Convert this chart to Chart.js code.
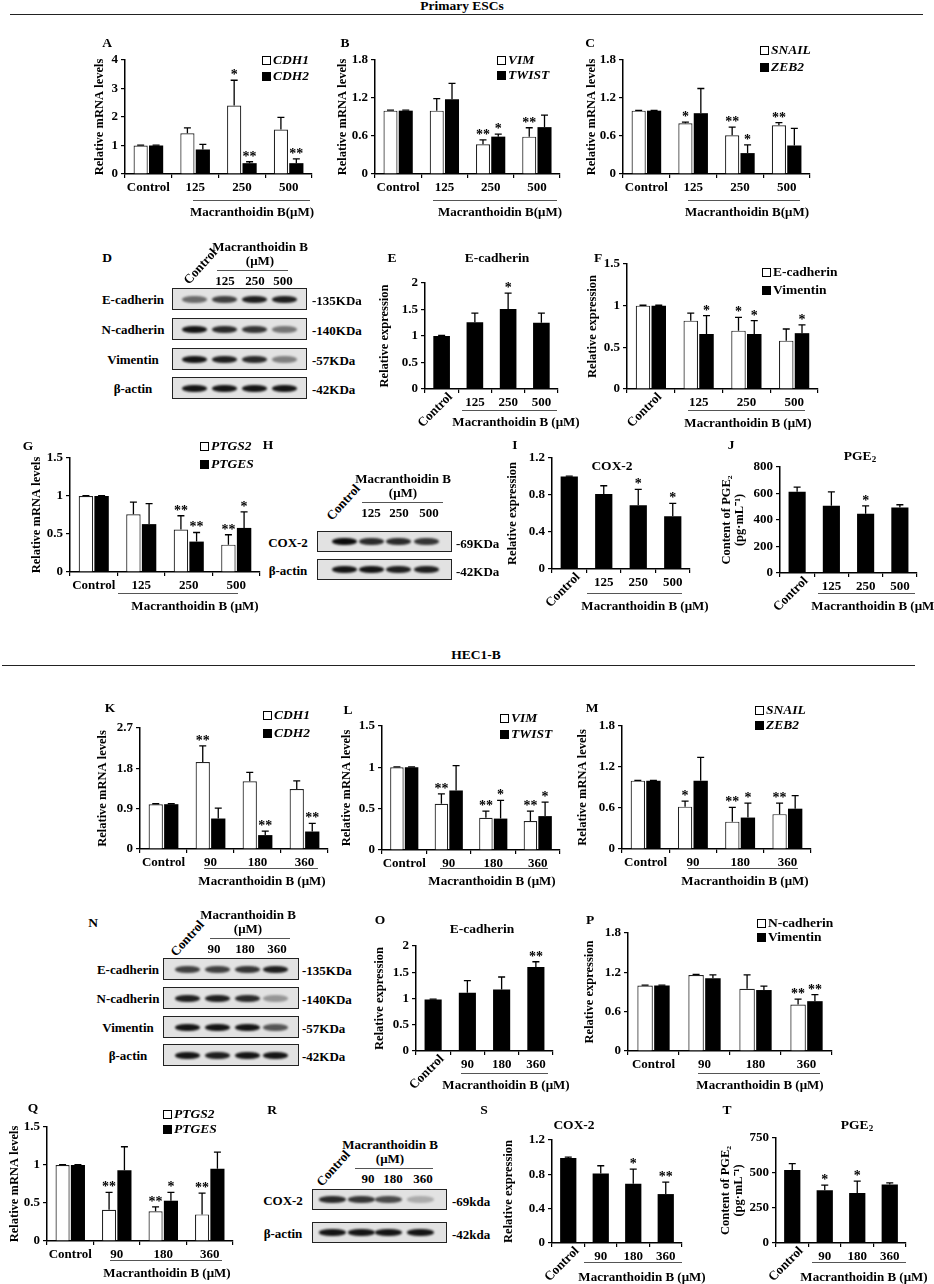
<!DOCTYPE html>
<html><head><meta charset="utf-8">
<script src="https://cdn.jsdelivr.net/npm/chart.js@4.4.1/dist/chart.umd.min.js"></script>
<style>
html,body{margin:0;padding:0;background:#fff;}
#fig{position:relative;width:934px;height:1284px;overflow:hidden;font-family:'Liberation Serif','Times New Roman',serif;font-weight:bold;color:#000;}
.t{position:absolute;white-space:nowrap;font-size:12px;line-height:1;transform:translate(-50%,-50%);}
.l{position:absolute;white-space:nowrap;font-size:12px;line-height:1;transform:translate(0,-50%);}
canvas{position:absolute;}
.rule{position:absolute;height:0;border-top:1.5px solid #222;}
.ul{position:absolute;height:0;border-top:1px solid #555;}
.blot{position:absolute;background:#e2e2e2;border:1.4px solid #222;box-sizing:border-box;overflow:hidden;}
.band{position:absolute;border-radius:45%;background:#0a0a0a;filter:blur(0.9px);}
sub{font-size:9px;vertical-align:-2px;}
</style></head>
<body><div id="fig"></div>
<script>
// ---------- categories ----------
const catESC = ['Control','125','250','500'];
const catHEC = ['Control','90','180','360'];

// ---------- Primary ESCs ----------
const A_CDH1 = [1.00,1.43,2.40,1.56];  const A_CDH1_err = [0.01,0.19,0.89,0.43];  const A_CDH1_sig = ['','','*',''];
const A_CDH2 = [1.00,0.86,0.38,0.38];  const A_CDH2_err = [0.01,0.18,0.05,0.15];  const A_CDH2_sig = ['','','**','**'];
const B_VIM = [1.00,1.00,0.47,0.59];   const B_VIM_err = [0.01,0.19,0.07,0.14];   const B_VIM_sig = ['','','**','**'];
const B_TWIST = [1.00,1.18,0.59,0.74]; const B_TWIST_err = [0.01,0.25,0.04,0.19]; const B_TWIST_sig = ['','','*',''];
const C_SNAIL = [1.00,0.80,0.61,0.77]; const C_SNAIL_err = [0.005,0.02,0.13,0.04]; const C_SNAIL_sig = ['','*','**','**'];
const C_ZEB2 = [1.00,0.96,0.33,0.45];  const C_ZEB2_err = [0.005,0.39,0.13,0.27];  const C_ZEB2_sig = ['','','*',''];
const E_ECAD = [1.00,1.26,1.51,1.25];  const E_ECAD_err = [0.01,0.17,0.30,0.18];  const E_ECAD_sig = ['','','*',''];
const F_ECAD = [1.00,0.82,0.70,0.58];  const F_ECAD_err = [0.005,0.09,0.16,0.14]; const F_ECAD_sig = ['','','*',''];
const F_VIM = [1.00,0.66,0.66,0.67];   const F_VIM_err = [0.005,0.22,0.16,0.10];  const F_VIM_sig = ['','*','*','*'];
const G_PTGS2 = [1.00,0.76,0.56,0.36]; const G_PTGS2_err = [0.005,0.16,0.18,0.13]; const G_PTGS2_sig = ['','','**','**'];
const G_PTGES = [1.00,0.63,0.40,0.58]; const G_PTGES_err = [0.005,0.27,0.12,0.21]; const G_PTGES_sig = ['','','**','*'];
const I_COX2 = [1.00,0.81,0.69,0.57];  const I_COX2_err = [0.005,0.09,0.17,0.14]; const I_COX2_sig = ['','','*','*'];
const J_PGE2 = [613,508,448,495];      const J_PGE2_err = [35,105,58,20];          const J_PGE2_sig = ['','','*',''];

// ---------- HEC1-B ----------
const K_CDH1 = [1.00,1.94,1.51,1.34];  const K_CDH1_err = [0.01,0.36,0.20,0.18];  const K_CDH1_sig = ['','**','',''];
const K_CDH2 = [1.00,0.68,0.31,0.39];  const K_CDH2_err = [0.01,0.23,0.09,0.18];  const K_CDH2_sig = ['','','**','**'];
const L_VIM = [1.00,0.56,0.39,0.35];   const L_VIM_err = [0.005,0.12,0.08,0.12];  const L_VIM_sig = ['','**','**','**'];
const L_TWIST = [1.00,0.72,0.38,0.41]; const L_TWIST_err = [0.005,0.30,0.22,0.17]; const L_TWIST_sig = ['','','*','*'];
const M_SNAIL = [1.00,0.62,0.40,0.51]; const M_SNAIL_err = [0.005,0.08,0.21,0.16]; const M_SNAIL_sig = ['','*','**','**'];
const M_ZEB2 = [1.00,1.00,0.46,0.59];  const M_ZEB2_err = [0.005,0.34,0.21,0.19];  const M_ZEB2_sig = ['','','*',''];
const O_ECAD = [0.98,1.11,1.17,1.60];  const O_ECAD_err = [0.01,0.23,0.24,0.10];  const O_ECAD_sig = ['','','','**'];
const P_NCAD = [1.00,1.16,0.95,0.71];  const P_NCAD_err = [0.005,0.01,0.21,0.08]; const P_NCAD_sig = ['','','','**'];
const P_VIM = [1.00,1.11,0.93,0.76];   const P_VIM_err = [0.005,0.05,0.06,0.10];  const P_VIM_sig = ['','','','**'];
const Q_PTGS2 = [1.00,0.41,0.39,0.35]; const Q_PTGS2_err = [0.005,0.23,0.06,0.28]; const Q_PTGS2_sig = ['','**','**','**'];
const Q_PTGES = [1.00,0.93,0.53,0.95]; const Q_PTGES_err = [0.005,0.31,0.11,0.22]; const Q_PTGES_sig = ['','','*',''];
const S_COX2 = [0.99,0.81,0.69,0.57];  const S_COX2_err = [0.01,0.09,0.17,0.14];  const S_COX2_sig = ['','','*','**'];
const T_PGE2 = [522,377,357,418];      const T_PGE2_err = [45,37,85,12];           const T_PGE2_sig = ['','*','*',''];

// ---------- western blot band intensities ----------
const blotD_names = ['E-cadherin','N-cadherin','Vimentin','β-actin'];
const blotD_kda = ['-135KDa','-140KDa','-57KDa','-42KDa'];
const blotD_bands = [[0.55,0.75,0.9,0.9],[0.95,0.85,0.8,0.5],[0.95,0.9,0.85,0.45],[0.95,0.95,0.95,0.95]];
const blotH_names = ['COX-2','β-actin'];
const blotH_kda = ['-69KDa','-42KDa'];
const blotH_bands = [[1,0.85,0.85,0.8],[0.95,0.95,0.9,0.9]];
const blotN_names = ['E-cadherin','N-cadherin','Vimentin','β-actin'];
const blotN_kda = ['-135KDa','-140KDa','-57KDa','-42KDa'];
const blotN_bands = [[0.75,0.75,0.8,0.9],[0.9,0.9,0.85,0.35],[0.95,0.95,0.95,0.65],[0.95,0.9,0.95,0.95]];
const blotR_names = ['COX-2','β-actin'];
const blotR_kda = ['-69kda','-42kda'];
const blotR_bands = [[0.85,0.8,0.7,0.25],[0.95,0.95,0.95,0.95]];

const FONT = "'Liberation Serif','Times New Roman',serif";
Chart.defaults.font.family = FONT;
Chart.defaults.font.weight = 'bold';
Chart.defaults.font.size = 13;
Chart.defaults.color = '#000';

const fig = document.getElementById('fig');
function el(tag, cls, style, html){ const e=document.createElement(tag); if(cls) e.className=cls; Object.assign(e.style, style||{}); if(html!==undefined) e.innerHTML=html; fig.appendChild(e); return e; }
function txt(x,y,s,o){ o=o||{}; const e=el('div', o.left?'l':'t', {left:x+'px', top:y+'px', fontSize:(o.size||13)+'px'}, s);
  if(o.italic) e.style.fontStyle='italic';
  if(o.rot) e.style.transform='translate(-50%,-50%) rotate('+o.rot+'deg)';
  return e; }
function hline(x1,x2,y,cls){ el('div', cls||'ul', {left:x1+'px', top:y+'px', width:(x2-x1)+'px'}); }
function legend(x,y1,y2,names,italic){
  names.forEach((n,i)=>{ const y=i?y2:y1;
    el('div','',{position:'absolute',left:x+'px',top:(y-4.5)+'px',width:'9px',height:'9px',boxSizing:'border-box',border:'1.2px solid #000',background:i?'#000':'#fff'});
    txt(x+11,y,n,{left:true,italic:italic,size:13.5});
  });
}

// plugins: error bars + significance, rotated first category label
const errPlugin = { id:'errs', afterDatasetsDraw(chart){
  const ctx=chart.ctx, ys=chart.scales.y;
  chart.data.datasets.forEach((ds,i)=>{
    const meta=chart.getDatasetMeta(i);
    meta.data.forEach((bar,j)=>{
      const yt=ys.getPixelForValue(ds.data[j]+ds.err[j]);
      ctx.save(); ctx.strokeStyle='#000'; ctx.lineWidth=1.3;
      ctx.beginPath(); ctx.moveTo(bar.x,bar.y); ctx.lineTo(bar.x,yt);
      ctx.moveTo(bar.x-3.5,yt); ctx.lineTo(bar.x+3.5,yt); ctx.stroke();
      if(ds.sig[j]){ ctx.fillStyle='#000'; ctx.font="bold 14px "+FONT; ctx.textAlign='center'; ctx.textBaseline='alphabetic'; ctx.fillText(ds.sig[j], bar.x, yt-1); }
      ctx.restore();
    });
  });
}};
const ctlPlugin = { id:'ctl', afterDraw(chart,args,opts){
  if(!opts.rotate) return;
  const xs=chart.scales.x, ctx=chart.ctx, x=xs.getPixelForValue(0);
  ctx.save(); ctx.translate(x+9, xs.top+6); ctx.rotate(-Math.PI/4);
  ctx.font="bold 13px "+FONT; ctx.fillStyle='#000'; ctx.textAlign='right'; ctx.textBaseline='middle';
  ctx.fillText(chart.data.labels[0],0,0); ctx.restore();
}};

function makeChart(p){
  const multi=Array.isArray(p.yt);
  const lhf=multi?1.0:1.15, fs=12.5, lh=fs*lhf, topPad=22, xH=50, rPad=6;
  const left=Math.round(p.tx - lh/2);
  const w=p.R-left+rPad, h=topPad+(p.bot-p.top)+xH;
  const c=document.createElement('canvas');
  c.width=w; c.height=h;
  Object.assign(c.style,{left:left+'px', top:(p.top-topPad)+'px', width:w+'px', height:h+'px'});
  fig.appendChild(c);
  const yW=p.L-left, pair=p.series.length===2;
  new Chart(c,{ type:'bar',
    data:{ labels:p.cats, datasets:p.series.map(s=>({ label:s.n, data:s.d, err:s.e, sig:s.s,
      backgroundColor:s.w?'#fff':'#000', borderColor:'#222', borderWidth:s.w?1.2:0,
      categoryPercentage:pair?0.66:0.5, barPercentage:pair?0.92:1 })) },
    options:{ responsive:false, animation:false, events:[],
      layout:{padding:{top:topPad,right:rPad,left:0,bottom:0}},
      plugins:{ legend:{display:false}, tooltip:{enabled:false}, ctl:{rotate:!!p.rot} },
      scales:{
        x:{ type:'category', offset:true,
          grid:{display:true, offset:true, drawOnChartArea:false, drawTicks:true, tickLength:4, color:'#000', lineWidth:1.2},
          border:{display:true, color:'#000', width:1.5},
          ticks:{ color:'#000', font:{size:13, weight:'bold'}, padding:2, maxRotation:0, autoSkip:false,
            callback:(v,i)=> (p.rot && i===0) ? '' : p.cats[i] },
          afterFit:(s)=>{ s.height=xH; } },
        y:{ min:0, max:p.max,
          ticks:{ stepSize:p.step, color:'#000', font:{size:13, weight:'bold'}, padding:3,
            callback:(v)=> String(Number(v.toFixed(3))) },
          grid:{display:true, drawOnChartArea:false, drawTicks:true, tickLength:4, color:'#000', lineWidth:1.2},
          border:{display:true, color:'#000', width:1.5},
          title:{ display:true, text:p.yt, color:'#000', padding:0, font:{size:fs, weight:'bold', lineHeight:lhf} },
          afterFit:(s)=>{ s.width=yW; } }
      } },
    plugins:[errPlugin, ctlPlugin] });
}

const mRNA='Relative mRNA levels', rexp='Relative expression', pge=['Content of PGE₂','(pg·mL⁻¹)'];
const panels = [
 {L:125,R:312,top:60,bot:174,tx:100,max:4,step:1,cats:catESC,yt:mRNA,series:[{n:'CDH1',d:A_CDH1,e:A_CDH1_err,s:A_CDH1_sig,w:1},{n:'CDH2',d:A_CDH2,e:A_CDH2_err,s:A_CDH2_sig}]},
 {L:375,R:560,top:60,bot:174,tx:343,max:1.8,step:0.6,cats:catESC,yt:mRNA,series:[{n:'VIM',d:B_VIM,e:B_VIM_err,s:B_VIM_sig,w:1},{n:'TWIST',d:B_TWIST,e:B_TWIST_err,s:B_TWIST_sig}]},
 {L:623,R:810,top:60,bot:174,tx:592,max:1.8,step:0.6,cats:catESC,yt:mRNA,series:[{n:'SNAIL',d:C_SNAIL,e:C_SNAIL_err,s:C_SNAIL_sig,w:1},{n:'ZEB2',d:C_ZEB2,e:C_ZEB2_err,s:C_ZEB2_sig}]},
 {L:425,R:558,top:283,bot:389,tx:385,max:2,step:0.5,rot:1,cats:catESC,yt:rexp,series:[{n:'E-cadherin',d:E_ECAD,e:E_ECAD_err,s:E_ECAD_sig}]},
 {L:627,R:818,top:264,bot:389,tx:593,max:1.5,step:0.5,rot:1,cats:catESC,yt:rexp,series:[{n:'E-cadherin',d:F_ECAD,e:F_ECAD_err,s:F_ECAD_sig,w:1},{n:'Vimentin',d:F_VIM,e:F_VIM_err,s:F_VIM_sig}]},
 {L:70,R:260,top:458,bot:572,tx:37,max:1.5,step:0.5,cats:catESC,yt:mRNA,series:[{n:'PTGS2',d:G_PTGS2,e:G_PTGS2_err,s:G_PTGS2_sig,w:1},{n:'PTGES',d:G_PTGES,e:G_PTGES_err,s:G_PTGES_sig}]},
 {L:552,R:690,top:458,bot:569,tx:513,max:1.2,step:0.4,rot:1,cats:catESC,yt:rexp,series:[{n:'COX-2',d:I_COX2,e:I_COX2_err,s:I_COX2_sig}]},
 {L:780,R:917,top:467,bot:573,tx:727,max:800,step:200,rot:1,cats:catESC,yt:pge,series:[{n:'PGE2',d:J_PGE2,e:J_PGE2_err,s:J_PGE2_sig}]},
 {L:140,R:328,top:728,bot:849,tx:103,max:2.7,step:0.9,cats:catHEC,yt:mRNA,series:[{n:'CDH1',d:K_CDH1,e:K_CDH1_err,s:K_CDH1_sig,w:1},{n:'CDH2',d:K_CDH2,e:K_CDH2_err,s:K_CDH2_sig}]},
 {L:382,R:560,top:726,bot:850,tx:347,max:1.5,step:0.5,cats:catHEC,yt:mRNA,series:[{n:'VIM',d:L_VIM,e:L_VIM_err,s:L_VIM_sig,w:1},{n:'TWIST',d:L_TWIST,e:L_TWIST_err,s:L_TWIST_sig}]},
 {L:622,R:811,top:726,bot:849,tx:583,max:1.8,step:0.6,cats:catHEC,yt:mRNA,series:[{n:'SNAIL',d:M_SNAIL,e:M_SNAIL_err,s:M_SNAIL_sig,w:1},{n:'ZEB2',d:M_ZEB2,e:M_ZEB2_err,s:M_ZEB2_sig}]},
 {L:416,R:553,top:946,bot:1051,tx:380,max:2,step:0.5,rot:1,cats:catHEC,yt:rexp,series:[{n:'E-cadherin',d:O_ECAD,e:O_ECAD_err,s:O_ECAD_sig}]},
 {L:628,R:832,top:933,bot:1051,tx:590,max:1.8,step:0.6,cats:catHEC,yt:rexp,series:[{n:'N-cadherin',d:P_NCAD,e:P_NCAD_err,s:P_NCAD_sig,w:1},{n:'Vimentin',d:P_VIM,e:P_VIM_err,s:P_VIM_sig}]},
 {L:47,R:233,top:1127,bot:1241,tx:15,max:1.5,step:0.5,cats:catHEC,yt:mRNA,series:[{n:'PTGS2',d:Q_PTGS2,e:Q_PTGS2_err,s:Q_PTGS2_sig,w:1},{n:'PTGES',d:Q_PTGES,e:Q_PTGES_err,s:Q_PTGES_sig}]},
 {L:552,R:682,top:1140,bot:1243,tx:509,max:1.2,step:0.4,rot:1,cats:catHEC,yt:rexp,series:[{n:'COX-2',d:S_COX2,e:S_COX2_err,s:S_COX2_sig}]},
 {L:776,R:906,top:1138,bot:1243,tx:726,max:750,step:250,rot:1,cats:catHEC,yt:pge,series:[{n:'PGE2',d:T_PGE2,e:T_PGE2_err,s:T_PGE2_sig}]}
];
panels.forEach(makeChart);

// ---------- section headers ----------
txt(462,6,'Primary ESCs',{size:13.5});
hline(10,923,14,'rule');
txt(476,655,'HEC1-B',{size:13.5});
hline(2,915,665,'rule');

// ---------- panel letters ----------
[['A',107,43],['B',345,43],['C',590,43],['D',107,258],['E',392,258],['F',598,258],['G',28,446],['H',268,445],['I',515,445],['J',731,445],
 ['K',110,708],['L',348,710],['M',592,708],['N',93,923],['O',380,920],['P',590,920],['Q',33,1108],['R',272,1110],['S',484,1110],['T',727,1110]]
 .forEach(a=>txt(a[1],a[2],a[0],{size:13.5}));

// ---------- legends ----------
legend(262,60,76,['CDH1','CDH2'],true);
legend(497,60,75,['VIM','TWIST'],true);
legend(760,50,67,['SNAIL','ZEB2'],true);
legend(762,272,290,['E-cadherin','Vimentin'],false);
legend(200,446,464,['PTGS2','PTGES'],true);
legend(263,715,733,['CDH1','CDH2'],true);
legend(500,718,734,['VIM','TWIST'],true);
legend(755,710,725,['SNAIL','ZEB2'],true);
legend(757,923,937,['N-cadherin','Vimentin'],false);
legend(163,1114,1129,['PTGS2','PTGES'],true);

// ---------- panel titles ----------
txt(497,258,'E-cadherin',{size:13.5});
txt(612,466,'COX-2',{size:13.5});
txt(860,456,'PGE<sub>2</sub>',{size:13.5});
txt(482,929,'E-cadherin',{size:13.5});
txt(574,1125,'COX-2',{size:13.5});
txt(857,1125,'PGE<sub>2</sub>',{size:13.5});

// ---------- treatment underlines & titles ----------
const mb='Macranthoidin B (μM)', mb0='Macranthoidin B(μM)';
[[193,310,200,252,211,mb0],[433,557,200,500,211,mb0],[688,800,200,747,211,mb0],
 [462,557,410,516,421,mb],[688,805,410,748,422,mb],
 [118,238,593,195,605,mb],[587,682,593,645,605,mb],[818,915,593,875,605,mb],
 [204,318,868,262,880,mb],[440,548,868,492,880,mb],[688,798,868,745,880,mb],
 [461,548,1073,506,1084,mb],[698,820,1073,760,1084,mb],
 [110,222,1260,167,1272,mb],[584,682,1262,642,1276,mb],[812,906,1262,864,1276,mb]]
 .forEach(a=>{ hline(a[0],a[1],a[2]); txt(a[3],a[4],a[5],{size:13}); });

// ---------- western blots ----------
function blot(b){
  b.bands.forEach((r,i)=>{
    const top=b.tops[i];
    const box=el('div','blot',{left:b.x1+'px',top:top+'px',width:(b.x2-b.x1)+'px',height:b.h+'px'});
    r.forEach((v,j)=>{ const band=document.createElement('div'); band.className='band';
      Object.assign(band.style,{left:(b.lanes[j]-b.x1-b.bw/2)+'px',top:(b.h/2-4.5)+'px',width:b.bw+'px',height:'7px',opacity:v});
      box.appendChild(band); });
    txt(b.lx, top+b.h/2, b.names[i], {size:13});
    txt(b.kx, top+b.h/2+1, b.kda[i], {left:true, size:13});
  });
  txt(b.cx, b.cy, 'Control', {rot:-48, size:13});
  txt(b.mx, b.my, 'Macranthoidin B', {size:13});
  txt(b.mx, b.my+14, '(μM)', {size:13});
  hline(b.u1, b.u2, b.my+24);
  b.doses.forEach((d,j)=>txt(b.dx[j], b.my+34, d, {size:13}));
}
blot({x1:172,x2:307,h:22,tops:[288,318,348,377],lanes:[193,223,253,283],bw:25,bands:blotD_bands,names:blotD_names,kda:blotD_kda,
  lx:133,kx:312,cx:200,cy:266,mx:260,my:246,u1:217,u2:288,doses:['125','250','500'],dx:[225,255,283]});
blot({x1:317,x2:452,h:21,tops:[531,559],lanes:[343,370,397,425],bw:25,bands:blotH_bands,names:blotH_names,kda:blotH_kda,
  lx:288,kx:456,cx:343,cy:502,mx:403,my:478,u1:362,u2:443,doses:['125','250','500'],dx:[371,399,429]});
blot({x1:163,x2:299,h:22,tops:[958,987,1016,1044],lanes:[186,216,246,274],bw:25,bands:blotN_bands,names:blotN_names,kda:blotN_kda,
  lx:128,kx:302,cx:187,cy:938,mx:248,my:914,u1:210,u2:290,doses:['90','180','360'],dx:[214,245,277]});
blot({x1:312,x2:447,h:21,tops:[1189,1222],lanes:[331,360,387,419],bw:27,bands:blotR_bands,names:blotR_names,kda:blotR_kda,
  lx:283,kx:452,cx:333,cy:1168,mx:390,my:1144,u1:355,u2:433,doses:['90','180','360'],dx:[368,393,423]});
</script>
</body></html>
